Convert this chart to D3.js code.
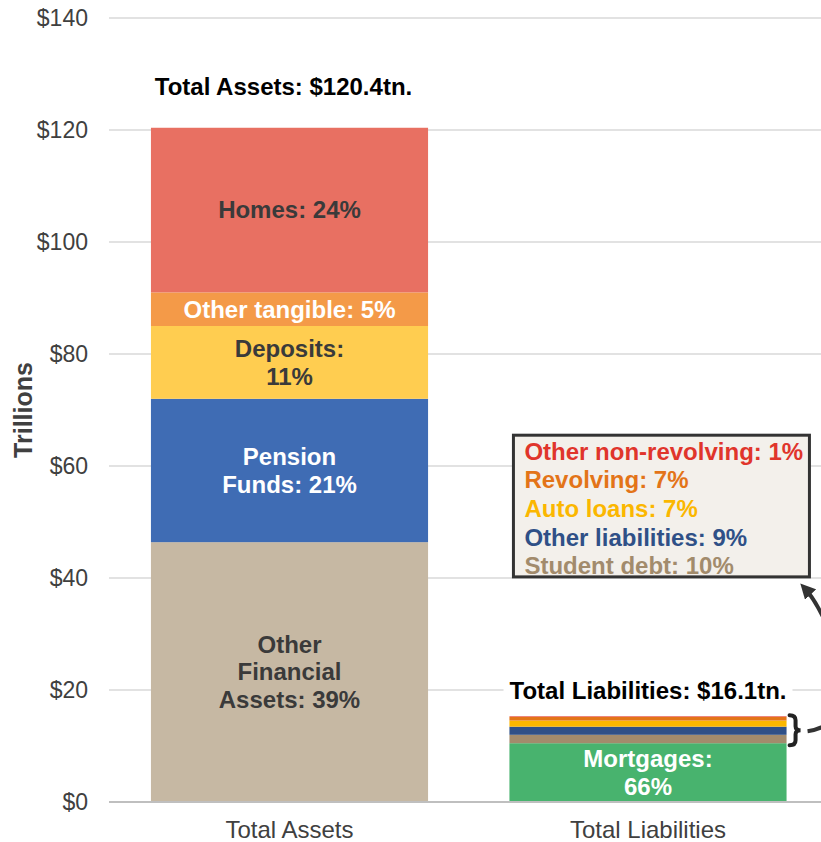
<!DOCTYPE html>
<html>
<head>
<meta charset="utf-8">
<script src="https://cdn.jsdelivr.net/npm/d3@7"></script>
<style>
  body { margin: 0; background: #fff; }
  svg text { font-family: "Liberation Sans", Arial, sans-serif; }
</style>
</head>
<body>
<div id="chart"></div>
<script>
// data
var categories = ["Total Assets", "Total Liabilities"];
var totalLabels = ["Total Assets: $120.4tn.", "Total Liabilities: $16.1tn."];

var assetNames = ["Other Financial Assets", "Pension Funds", "Deposits", "Other tangible", "Homes"];
var assetValues = [46.4, 25.6, 13.0, 6.0, 29.4];
var assetLabels = [["Other", "Financial", "Assets: 39%"], ["Pension", "Funds: 21%"], ["Deposits:", "11%"], ["Other tangible: 5%"], ["Homes: 24%"]];
var assetColors = ["#c6b8a3", "#3f6cb4", "#ffcd50", "#f49a48", "#e87062"];
var assetTextColors = ["#3a3a3a", "#ffffff", "#3a3a3a", "#ffffff", "#3a3a3a"];

var liabNames = ["Mortgages", "Student debt", "Other liabilities", "Auto loans", "Revolving", "Other non-revolving"];
var liabValues = [10.5, 1.5, 1.45, 1.1, 0.65, 0.1];
var liabColors = ["#48b36e", "#a28b6c", "#2f5087", "#fbb700", "#e37418", "#e0352b"];
var liabLegend = ["Other non-revolving: 1%", "Revolving: 7%", "Auto loans: 7%", "Other liabilities: 9%", "Student debt: 10%"];
var liabLegendColors = ["#e0352b", "#e37418", "#fbb700", "#2f5087", "#a28b6c"];

var yTicks = [0, 20, 40, 60, 80, 100, 120, 140];

var W = 821, H = 842;
var svg = d3.select("#chart").append("svg")
  .attr("width", W).attr("height", H);

var defs = svg.append("defs");
defs.append("marker")
  .attr("id", "arrow")
  .attr("viewBox", "0 0 10 10")
  .attr("refX", 6).attr("refY", 5)
  .attr("markerWidth", 3.8).attr("markerHeight", 3.8)
  .attr("orient", "auto")
  .append("path")
  .attr("d", "M0,0 L10,5 L0,10 z")
  .attr("fill", "#333");

var x = d3.scaleBand()
  .domain(categories)
  .range([109, 828.5])
  .paddingInner(0.227)
  .paddingOuter(0.117);

var y = d3.scaleLinear().domain([0, 140]).range([802, 18]);

// gridlines
svg.selectAll(".grid")
  .data(yTicks.slice(1))
  .enter().append("line")
  .attr("x1", 109).attr("x2", W)
  .attr("y1", function(d){ return y(d); })
  .attr("y2", function(d){ return y(d); })
  .attr("stroke", "#d9d9d9")
  .attr("stroke-width", 1.5);

// y tick labels
svg.selectAll(".ytick")
  .data(yTicks)
  .enter().append("text")
  .attr("x", 88)
  .attr("y", function(d){ return y(d); })
  .attr("dy", "0.35em")
  .attr("text-anchor", "end")
  .attr("font-size", "23px")
  .attr("fill", "#404040")
  .text(function(d){ return "$" + d; });

svg.append("text")
  .attr("transform", "translate(32," + y(70) + ") rotate(-90)")
  .attr("text-anchor", "middle")
  .attr("font-size", "25px")
  .attr("font-weight", "bold")
  .attr("fill", "#404040")
  .text("Trillions");

// stack helper
function stack(values) {
  var acc = 0;
  return values.map(function(v, i){ var s = {i: i, y0: acc, y1: acc + v}; acc += v; return s; });
}

var assetStack = stack(assetValues);
var liabStack = stack(liabValues);

// asset bar
var gA = svg.append("g");
gA.selectAll("rect")
  .data(assetStack)
  .enter().append("rect")
  .attr("x", x(categories[0]))
  .attr("width", x.bandwidth())
  .attr("y", function(d){ return y(d.y1); })
  .attr("height", function(d){ return y(d.y0) - y(d.y1); })
  .attr("fill", function(d){ return assetColors[d.i]; });

gA.selectAll("text")
  .data(assetStack)
  .enter().append("text")
  .attr("text-anchor", "middle")
  .attr("font-size", "24px")
  .attr("font-weight", "bold")
  .attr("fill", function(d){ return assetTextColors[d.i]; })
  .each(function(d){
    var lines = assetLabels[d.i];
    var cy = y((d.y0 + d.y1) / 2);
    var lh = 27.5;
    var t = d3.select(this);
    lines.forEach(function(l, k){
      t.append("tspan")
        .attr("x", x(categories[0]) + x.bandwidth() / 2)
        .attr("y", cy + (k - (lines.length - 1) / 2) * lh)
        .attr("dy", "0.35em")
        .text(l);
    });
  });

// liabilities bar
var gL = svg.append("g");
gL.selectAll("rect")
  .data(liabStack)
  .enter().append("rect")
  .attr("x", x(categories[1]))
  .attr("width", x.bandwidth())
  .attr("y", function(d){ return y(d.y1); })
  .attr("height", function(d){ return y(d.y0) - y(d.y1); })
  .attr("fill", function(d){ return liabColors[d.i]; });

var mort = liabStack[0];
var mt = gL.append("text")
  .attr("text-anchor", "middle")
  .attr("font-size", "24px")
  .attr("font-weight", "bold")
  .attr("fill", "#fff");
["Mortgages:", "66%"].forEach(function(l, k){
  mt.append("tspan")
    .attr("x", x(categories[1]) + x.bandwidth() / 2)
    .attr("y", y((mort.y0 + mort.y1) / 2) + (k - 0.5) * 27.5)
    .attr("dy", "0.35em")
    .text(l);
});

// base axis line
svg.append("line")
  .attr("x1", 109).attr("x2", W)
  .attr("y1", y(0)).attr("y2", y(0))
  .attr("stroke", "#bfbfbf")
  .attr("stroke-width", 2);

// category labels
svg.selectAll(".cat")
  .data(categories)
  .enter().append("text")
  .attr("x", function(d){ return x(d) + x.bandwidth() / 2; })
  .attr("y", 830)
  .attr("dy", "0.35em")
  .attr("text-anchor", "middle")
  .attr("font-size", "24px")
  .attr("fill", "#404040")
  .text(function(d){ return d; });

// totals
var totals = [d3.sum(assetValues), d3.sum(liabValues)];
var totalOffsets = [41, 26];
var totalShift = [-6, 0];
categories.forEach(function(c, i){
  var ty = y(totals[i]) - totalOffsets[i];
  var t = svg.append("text")
    .attr("x", x(c) + x.bandwidth() / 2 + totalShift[i])
    .attr("y", ty)
    .attr("dy", "0.35em")
    .attr("text-anchor", "middle")
    .attr("font-size", "24px")
    .attr("font-weight", "bold")
    .attr("fill", "#000")
    .text(totalLabels[i]);
  var bb = t.node().getBBox();
  svg.insert("rect", function(){ return t.node(); })
    .attr("x", bb.x - 6).attr("y", bb.y)
    .attr("width", bb.width + 12).attr("height", bb.height)
    .attr("fill", "#fff");
});

// annotation box for small liabilities
var boxX = x(categories[1]) + 4, boxW = 296;
var boxTop = y(65.5), boxBottom = y(40.2);
svg.append("rect")
  .attr("x", boxX).attr("y", boxTop)
  .attr("width", boxW).attr("height", boxBottom - boxTop)
  .attr("fill", "#f3f0eb")
  .attr("stroke", "#333")
  .attr("stroke-width", 3);

svg.selectAll(".leg")
  .data(liabLegend)
  .enter().append("text")
  .attr("x", boxX + 11)
  .attr("y", function(d, i){ return boxTop + 16 + i * 28.7; })
  .attr("dy", "0.35em")
  .attr("font-size", "24px")
  .attr("font-weight", "bold")
  .attr("fill", function(d, i){ return liabLegendColors[i]; })
  .text(function(d){ return d; });

// brace over the small segments
var bx = x(categories[1]) + x.bandwidth() + 3;
var by1 = y(d3.sum(liabValues)) - 1, by2 = y(liabStack[0].y1) + 2, bm = (by1 + by2) / 2;
svg.append("path")
  .attr("d", "M" + bx + "," + by1 + " Q" + (bx + 6) + "," + by1 + " " + (bx + 6) + "," + (by1 + 5) +
    " L" + (bx + 6) + "," + (bm - 4) + " Q" + (bx + 6) + "," + bm + " " + (bx + 11) + "," + bm +
    " Q" + (bx + 6) + "," + bm + " " + (bx + 6) + "," + (bm + 4) +
    " L" + (bx + 6) + "," + (by2 - 5) + " Q" + (bx + 6) + "," + by2 + " " + bx + "," + by2)
  .attr("fill", "none")
  .attr("stroke", "#222")
  .attr("stroke-width", 4)
  .attr("stroke-linecap", "round");

// curved arrow to the box
var ax = boxX + boxW - 5, ay = boxBottom + 11;
svg.append("path")
  .attr("d", "M" + (bx + 18) + "," + (bm + 1) + " C875," + (bm - 8) + " " + (ax + 24) + "," + (ay + 26) + " " + ax + "," + ay)
  .attr("fill", "none")
  .attr("stroke", "#333")
  .attr("stroke-width", 4)
  .attr("marker-end", "url(#arrow)");
</script>
</body>
</html>
